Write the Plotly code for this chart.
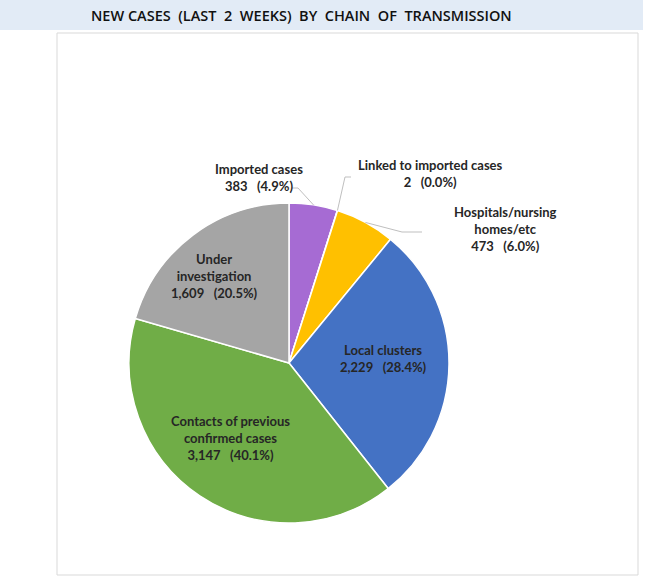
import math
import plotly.graph_objects as go

# données du graphique
categories = ["Imported cases", "Linked to imported cases", "Hospitals/nursing<br>homes/etc",
              "Local clusters", "Contacts of previous<br>confirmed cases", "Under<br>investigation"]
values = [383, 2, 473, 2229, 3147, 1609]
colors = ["#A66BD3", "#5B9BD5", "#FFC000", "#4472C4", "#70AD47", "#A5A5A5"]

W, H = 650, 584
CX, CY, R = 289, 363, 160  # centre et rayon du camembert (pixels)

# position des étiquettes (pixels, centre du texte)
label_pos = [(259, 177), (430, 173), (505, 229), (383, 358), (230, 438), (214, 276)]


def px(x):
    return x / W


def py(y):
    return 1 - y / H


total = sum(values)

fig = go.Figure()
fig.add_trace(go.Pie(
    labels=[c.replace("<br>", " ") for c in categories], values=values,
    sort=False, direction="clockwise", rotation=0,
    marker=dict(colors=colors, line=dict(color="white", width=1.5)),
    textinfo="none", showlegend=False,
    domain=dict(x=[px(CX - R), px(CX + R)], y=[py(CY + R), py(CY - R)]),
))

annotations = []
for cat, v, (lx, ly) in zip(categories, values, label_pos):
    txt = f"{cat}<br>{v:,}\u00a0\u00a0\u00a0({v / total * 100:.1f}%)"
    annotations.append(dict(x=px(lx), y=py(ly), xref="paper", yref="paper", text=txt,
                            showarrow=False, xanchor="center", yanchor="middle",
                            font=dict(family="Lato", size=13, color="#262626", weight="bold")))

# titre
annotations.append(dict(x=px(301), y=py(15), xref="paper", yref="paper",
                        text="NEW\u00a0CASES\u00a0\u00a0(LAST\u00a0\u00a02\u00a0\u00a0WEEKS)\u00a0\u00a0BY\u00a0\u00a0CHAIN\u00a0\u00a0OF\u00a0\u00a0TRANSMISSION",
                        showarrow=False, xanchor="center", yanchor="middle",
                        font=dict(family="Open Sans", size=14.5, color="#111111", weight=600)))

# lignes de rappel pour les petites parts (extrémité sur le bord de la part)
cum = 0
edges = []
for v in values:
    f = (cum + v / 2) / total
    a = 2 * math.pi * f
    edges.append((CX + R * math.sin(a), CY - R * math.cos(a)))
    cum += v
leaders = [
    [(292, 188), (298, 188)],
    [(351, 177), (345, 177)],
    [(422, 232), (402, 232)],
]
shapes = [
    dict(type="rect", xref="paper", yref="paper", x0=0, x1=px(643), y0=py(30), y1=1,
         fillcolor="#E2EBF6", line=dict(width=0), layer="below"),
    dict(type="rect", xref="paper", yref="paper", x0=px(57), x1=px(638), y0=py(575), y1=py(33),
         fillcolor="white", line=dict(color="#D9D9D9", width=1), layer="below"),
]
for i, pts in enumerate(leaders):
    ex, ey = edges[i]
    path = f"M {px(pts[0][0])} {py(pts[0][1])} L {px(pts[1][0])} {py(pts[1][1])} L {px(ex)} {py(ey)}"
    shapes.append(dict(type="path", xref="paper", yref="paper", path=path,
                       line=dict(color="#BFBFBF", width=1)))

fig.update_layout(width=W, height=H, margin=dict(l=0, r=0, t=0, b=0),
                  paper_bgcolor="white", plot_bgcolor="white",
                  annotations=annotations, shapes=shapes)

# pas de marge autour du graphique dans la page, pas de barre d'outils
fig.write_html("out.html", config={"displayModeBar": False},
               post_script="document.body.style.margin='0px';")
